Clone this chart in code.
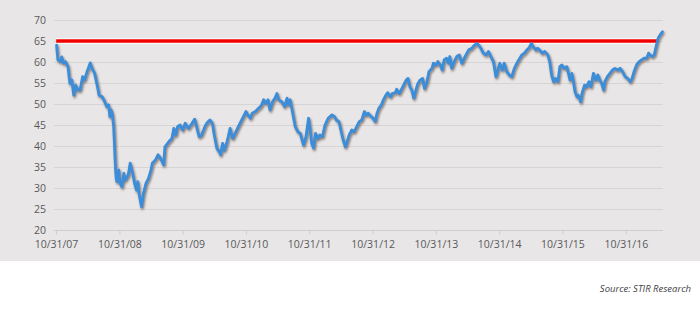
<!DOCTYPE html>
<html>
<head>
<meta charset="utf-8">
<script src="https://cdn.jsdelivr.net/npm/d3@7"></script>
<style>
  html, body { margin: 0; padding: 0; background: #fff; }
  #container { width: 700px; height: 314px; }
</style>
</head>
<body>
<div id="container"></div>
<script>
// observation times as decimal years (10/31/07 = 2007.833)
const times = [
  2007.84, 2007.86, 2007.90, 2007.92, 2007.95, 2007.98, 2008.02, 2008.05, 2008.08, 2008.11,
  2008.14, 2008.18, 2008.21, 2008.25, 2008.28, 2008.32, 2008.34, 2008.37, 2008.40, 2008.44,
  2008.48, 2008.51, 2008.56, 2008.60, 2008.63, 2008.66, 2008.68, 2008.70, 2008.72, 2008.74,
  2008.77, 2008.78, 2008.79, 2008.82, 2008.84, 2008.87, 2008.90, 2008.92, 2008.97, 2009.00,
  2009.04, 2009.07, 2009.10, 2009.12, 2009.14, 2009.18, 2009.21, 2009.25, 2009.29, 2009.33,
  2009.35, 2009.40, 2009.44, 2009.48, 2009.53, 2009.55, 2009.61, 2009.66, 2009.69, 2009.72,
  2009.75, 2009.79, 2009.83, 2009.87, 2009.92, 2009.96, 2010.02, 2010.05, 2010.09, 2010.13,
  2010.18, 2010.21, 2010.26, 2010.30, 2010.33, 2010.37, 2010.41, 2010.43, 2010.46, 2010.49,
  2010.53, 2010.55, 2010.58, 2010.62, 2010.66, 2010.71, 2010.75, 2010.79, 2010.83, 2010.86,
  2010.90, 2010.93, 2010.98, 2011.03, 2011.07, 2011.11, 2011.14, 2011.18, 2011.21, 2011.25,
  2011.29, 2011.32, 2011.35, 2011.40, 2011.44, 2011.48, 2011.50, 2011.53, 2011.55, 2011.58,
  2011.61, 2011.65, 2011.69, 2011.74, 2011.78, 2011.82, 2011.84, 2011.87, 2011.90, 2011.93,
  2011.97, 2012.00, 2012.04, 2012.08, 2012.13, 2012.19, 2012.23, 2012.26, 2012.30, 2012.33,
  2012.36, 2012.40, 2012.42, 2012.46, 2012.50, 2012.54, 2012.58, 2012.62, 2012.66, 2012.70,
  2012.73, 2012.76, 2012.81, 2012.84, 2012.87, 2012.90, 2012.93, 2012.97, 2013.00, 2013.04,
  2013.07, 2013.11, 2013.14, 2013.19, 2013.21, 2013.25, 2013.28, 2013.32, 2013.36, 2013.39,
  2013.42, 2013.45, 2013.48, 2013.50, 2013.54, 2013.58, 2013.62, 2013.65, 2013.69, 2013.72,
  2013.77, 2013.79, 2013.83, 2013.86, 2013.90, 2013.93, 2013.96, 2014.00, 2014.03, 2014.05,
  2014.08, 2014.12, 2014.16, 2014.20, 2014.24, 2014.28, 2014.32, 2014.35, 2014.40, 2014.44,
  2014.48, 2014.51, 2014.54, 2014.58, 2014.62, 2014.66, 2014.70, 2014.74, 2014.78, 2014.81,
  2014.84, 2014.88, 2014.91, 2014.95, 2014.99, 2015.03, 2015.07, 2015.11, 2015.14, 2015.19,
  2015.23, 2015.27, 2015.30, 2015.34, 2015.37, 2015.41, 2015.44, 2015.48, 2015.51, 2015.55,
  2015.60, 2015.63, 2015.66, 2015.69, 2015.72, 2015.76, 2015.79, 2015.82, 2015.86, 2015.90,
  2015.92, 2015.95, 2015.98, 2016.00, 2016.03, 2016.06, 2016.08, 2016.12, 2016.14, 2016.18,
  2016.21, 2016.25, 2016.28, 2016.32, 2016.36, 2016.39, 2016.42, 2016.45, 2016.48, 2016.50,
  2016.54, 2016.58, 2016.62, 2016.66, 2016.70, 2016.74, 2016.78, 2016.82, 2016.86, 2016.90,
  2016.93, 2016.96, 2017.00, 2017.04, 2017.08, 2017.12, 2017.16, 2017.19, 2017.21, 2017.25,
  2017.28, 2017.32, 2017.34, 2017.37, 2017.41
];

const values = [
  64.0, 60.5, 60.1, 61.2, 59.7, 60.1, 58.9, 54.9, 55.7, 52.1,
  54.5, 53.3, 53.3, 56.5, 55.7, 57.7, 58.5, 59.8, 58.5, 57.3,
  54.5, 52.1, 51.7, 50.5, 49.4, 49.8, 47.0, 48.6, 47.4, 44.6,
  34.3, 32.3, 31.5, 34.3, 31.1, 30.3, 33.5, 31.9, 33.1, 35.9,
  33.5, 31.1, 29.5, 31.5, 28.7, 25.5, 28.7, 31.1, 32.3, 34.3,
  35.9, 36.7, 37.9, 37.1, 35.5, 39.8, 41.0, 41.8, 44.2, 42.6,
  44.6, 45.0, 43.8, 45.4, 44.2, 45.0, 46.4, 44.6, 42.2, 42.6,
  44.6, 45.4, 46.2, 45.4, 42.6, 39.5, 38.6, 37.9, 40.6, 39.0,
  41.0, 42.2, 44.2, 41.8, 43.0, 44.6, 45.8, 47.0, 48.2, 47.4,
  46.6, 47.8, 48.2, 49.0, 49.5, 51.0, 50.2, 51.0, 48.6, 50.5,
  51.4, 52.5, 51.0, 50.5, 49.4, 51.4, 49.8, 51.0, 49.4, 47.0,
  44.6, 43.4, 43.0, 40.2, 42.2, 46.6, 44.6, 40.6, 39.5, 43.0,
  41.8, 42.6, 42.2, 45.0, 46.6, 47.4, 47.0, 46.2, 45.8, 43.8,
  41.8, 39.8, 40.6, 42.6, 43.8, 43.4, 44.6, 45.8, 46.2, 48.2,
  47.4, 47.8, 47.0, 46.6, 45.8, 47.8, 49.0, 49.8, 51.0, 52.1,
  52.7, 51.7, 52.5, 52.7, 53.5, 52.5, 53.3, 54.5, 55.7, 56.1,
  54.1, 53.3, 51.4, 52.5, 54.7, 55.7, 56.1, 53.7, 55.3, 57.7,
  58.5, 59.7, 59.3, 60.1, 59.3, 58.1, 60.5, 60.9, 59.7, 61.3,
  58.5, 60.1, 61.3, 61.7, 59.7, 60.9, 62.1, 62.9, 63.3, 64.0,
  64.4, 64.0, 63.3, 62.1, 61.7, 62.5, 61.3, 60.1, 56.5, 58.1,
  59.7, 58.1, 59.7, 57.7, 56.9, 56.5, 58.5, 59.7, 60.5, 61.7,
  62.1, 62.9, 63.3, 64.4, 63.6, 62.9, 63.3, 62.7, 62.1, 62.5,
  61.7, 60.1, 56.9, 55.3, 56.1, 55.3, 58.9, 59.3, 58.5, 58.9,
  57.7, 55.7, 57.3, 55.7, 52.9, 51.7, 52.1, 50.5, 52.5, 54.5,
  54.1, 55.3, 54.1, 57.3, 55.7, 56.9, 55.7, 54.9, 53.3, 55.3,
  56.5, 57.3, 58.1, 58.5, 58.1, 58.5, 57.7, 56.5, 56.1, 55.3,
  56.1, 57.7, 59.3, 60.1, 60.5, 60.9, 60.9, 62.1, 61.7, 61.3,
  61.7, 64.4, 65.6, 66.4, 67.2
];

// reference level (red line) and its span
const benchmark = 65;
const benchSpan = [2007.833, 2017.35];

const yTicks = [20, 25, 30, 35, 40, 45, 50, 55, 60, 65, 70];
const xTickYears = [2007, 2008, 2009, 2010, 2011, 2012, 2013, 2014, 2015, 2016];
const sourceText = "Source: STIR Research";

const toDate = (y) => {
  const yr = Math.floor(y);
  const start = Date.UTC(yr, 0, 1);
  const end = Date.UTC(yr + 1, 0, 1);
  return new Date(start + (y - yr) * (end - start));
};

const width = 700,
  height = 314;
const margin = { left: 56, right: 37, top: 20, bottom: 84 };

const svg = d3
  .select("#container")
  .append("svg")
  .attr("width", width)
  .attr("height", height)
  .style("font-family", "'Open Sans', sans-serif");

// drop shadow for the series line
const defs = svg.append("defs");
const shadow = defs
  .append("filter")
  .attr("id", "shadow")
  .attr("x", "-5%")
  .attr("y", "-5%")
  .attr("width", "110%")
  .attr("height", "120%");
shadow
  .append("feDropShadow")
  .attr("dx", 1)
  .attr("dy", 1.6)
  .attr("stdDeviation", 0.9)
  .attr("flood-color", "#5b4630")
  .attr("flood-opacity", 0.7);

// grey panel
svg
  .append("rect")
  .attr("x", 0)
  .attr("y", 0)
  .attr("width", width)
  .attr("height", 261)
  .attr("fill", "#e8e6e7");

const x = d3
  .scaleUtc()
  .domain([Date.UTC(2007, 9, 31), toDate(2017.418)])
  .range([margin.left, width - margin.right]);

const y = d3
  .scaleLinear()
  .domain([20, 70])
  .range([height - margin.bottom, margin.top]);

// gridlines
svg
  .append("g")
  .selectAll("line")
  .data(yTicks.filter((d) => d > 20))
  .enter()
  .append("line")
  .attr("x1", margin.left - 2)
  .attr("x2", width - margin.right)
  .attr("y1", (d) => Math.round(y(d)) + 0.5)
  .attr("y2", (d) => Math.round(y(d)) + 0.5)
  .attr("stroke", "#d6d4d5")
  .attr("stroke-width", 1);

// y axis labels
const yAxis = d3
  .axisLeft(y)
  .tickValues(yTicks)
  .tickSize(0)
  .tickPadding(0)
  .tickFormat((d) => d);
svg
  .append("g")
  .attr("transform", `translate(46,0)`)
  .call(yAxis)
  .call((g) => g.select(".domain").remove())
  .selectAll("text")
  .attr("fill", "#595959")
  .style("font-size", "10.5px")
  .style("font-family", "'Open Sans', sans-serif");

// x axis
const xAxis = d3
  .axisBottom(x)
  .tickValues(xTickYears.map((yr) => new Date(Date.UTC(yr, 9, 31))))
  .tickSize(4)
  .tickSizeOuter(0)
  .tickPadding(6)
  .tickFormat(d3.utcFormat("%m/%d/%y"));
const xg = svg
  .append("g")
  .attr("transform", `translate(0,${Math.round(y(20)) + 0.5})`)
  .call(xAxis);
xg.select(".domain")
  .attr("stroke", "#cfcdce")
  .attr("d", `M${margin.left - 2},0H${width - margin.right}`);
xg.selectAll(".tick line").attr("stroke", "#cfcdce");
xg.selectAll("text")
  .attr("fill", "#595959")
  .style("font-size", "10.5px")
  .style("font-family", "'Open Sans', sans-serif");

// benchmark line with a thin light edge
const benchY = y(benchmark);
svg
  .append("line")
  .attr("x1", x(toDate(benchSpan[0])))
  .attr("x2", x(toDate(benchSpan[1])))
  .attr("y1", benchY)
  .attr("y2", benchY)
  .attr("stroke", "#ffffff")
  .attr("stroke-width", 5.5);
svg
  .append("line")
  .attr("x1", x(toDate(benchSpan[0])))
  .attr("x2", x(toDate(benchSpan[1])))
  .attr("y1", benchY)
  .attr("y2", benchY)
  .attr("stroke", "#f00000")
  .attr("stroke-width", 3.4);

// series line
const series = times.map((t, i) => ({ date: toDate(t), value: values[i] }));
const line = d3
  .line()
  .x((d) => x(d.date))
  .y((d) => y(d.value));
svg
  .append("path")
  .datum(series)
  .attr("d", line)
  .attr("fill", "none")
  .attr("stroke", "#3a8dd8")
  .attr("stroke-width", 2.8)
  .attr("stroke-linejoin", "round")
  .attr("stroke-linecap", "round")
  .attr("filter", "url(#shadow)");

// source note
svg
  .append("text")
  .attr("x", 691)
  .attr("y", 292)
  .attr("text-anchor", "end")
  .attr("fill", "#404040")
  .style("font-size", "9.5px")
  .style("font-style", "italic")
  .text(sourceText);
</script>
</body>
</html>
